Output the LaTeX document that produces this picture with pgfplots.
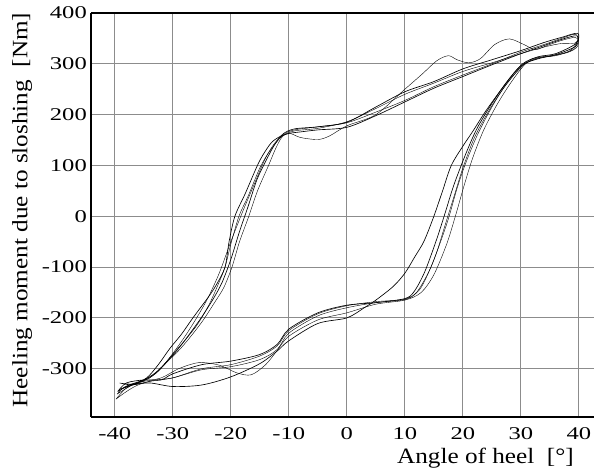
\documentclass[border=0pt]{standalone}
\usepackage{fontspec}
\setmainfont{Liberation Serif}
\newfontfamily\tickfont{Liberation Serif}[FakeStretch=1.37]
\newfontfamily\labfont{Liberation Serif}[FakeStretch=1.15]
\usepackage{pgfplots}
\pgfplotsset{compat=1.18}

\begin{document}
\begin{tikzpicture}
\begin{axis}[
    scale only axis,
    width=503bp, height=404bp,
    xmin=-44.1, xmax=42.6,
    ymin=-395, ymax=400,
    axis x line=box, axis y line=left,
    axis line style={-, line width=1.6pt, black},
    xtick={-40,-30,-20,-10,0,10,20,30,40},
    xticklabels={-40,-30,-20,-10,0,10,20,30,40},
    ytick={-300,-200,-100,0,100,200,300,400},
    yticklabels={-300,-200,-100,0,100,200,300,400},
    major tick length=0pt,
    grid=major,
    grid style={gray!90, line width=0.9pt},
    xticklabel style={font=\tickfont\fontsize{18}{20}\selectfont, anchor=base, inner sep=0pt, yshift=-22bp},
    yticklabel style={font=\tickfont\fontsize{18}{20}\selectfont, anchor=east, inner sep=0pt, xshift=-4bp},
    xlabel={Angle of heel~~[°]},
    ylabel={Heeling moment due to sloshing~~[Nm]},
    xlabel style={font=\labfont\fontsize{22}{26}\selectfont, at={(axis description cs:0.6083,0)}, anchor=base west, inner sep=0pt, yshift=-46bp},
    ylabel style={font=\labfont\fontsize{22}{26}\selectfont, at={(axis description cs:-0.1266,0.512)}, anchor=base, inner sep=0pt},
    cycle list={{black, line width=0.65pt, no marks}},
    every axis plot/.append style={smooth, tension=0.5},
]
% cycle 1 (sloshing waves after each reversal)
\addplot coordinates {
(-39.6,-350) (-38.2,-335) (-35.5,-326) (-32,-318) (-29,-300) (-25.5,-288) (-22,-293) (-19,-308) (-16.5,-312) (-14,-292) (-12,-264) (-10,-236) (-5,-204) (0,-190) (5,-173) (10,-165) (12.8,-150) (15,-115) (17.2,-55) (18.7,0) (20.2,60) (21.7,115) (23.6,170) (26,222) (28.4,265) (30.8,300) (33,312) (36,316) (38.5,326) (39.8,345)
(39.3,352) (37,346) (34.5,336) (32.5,328) (30.5,338) (28,349) (25.5,338) (23,310) (21,302) (19,308) (17.5,316) (15.5,306) (13,280) (10,250) (5,200) (0,178) (-3,158) (-5,151) (-8,155) (-10,163) (-12,150) (-14,115) (-16,62) (-18,8) (-20,-50) (-22,-112) (-24,-162) (-26,-202) (-28,-238) (-30,-270) (-32,-298) (-34,-318) (-37,-332) (-39.6,-350)
};
% cycle 2
\addplot coordinates {
(-39,-340) (-37,-332) (-34,-328) (-30,-335) (-25,-332) (-20,-316) (-15,-290) (-12,-265) (-10,-245) (-5,-211) (0,-200) (3,-180) (5,-165) (8,-138) (10,-112) (11.7,-80) (13.3,-49) (15,0) (16.5,50) (18,100) (20,138) (21.7,167) (24,208) (27,255) (30,296) (33,310) (36,318) (39.5,335)
(39.7,355) (37,348) (34,336) (30,320) (25,298) (20,275) (15,252) (10,225) (5,198) (0,175) (-5,170) (-8,166) (-10,163) (-11.5,157) (-13,145) (-14.5,120) (-15.5,98) (-17.5,45) (-19.3,0) (-20.3,-50) (-21,-100) (-22.5,-135) (-24,-161) (-26.6,-201) (-28.5,-232) (-30.5,-260) (-32.5,-292) (-34.5,-318) (-37,-332) (-39,-340)
};
% cycle 3
\addplot coordinates {
(-39.2,-328) (-37,-332) (-34,-325) (-30,-318) (-25,-302) (-20,-296) (-15,-282) (-12,-262) (-10,-230) (-5,-196) (0,-180) (5,-170) (10,-164) (12,-150) (14,-112) (15.5,-70) (17,-15) (18.5,40) (20,95) (22,155) (24.5,208) (27,252) (30,294) (32,310) (35,316) (38,322) (39.8,335)
(39.5,358) (37,350) (34,338) (30,323) (25,300) (20,278) (15,255) (10,228) (5,205) (0,184) (-5,176) (-9,170) (-11,160) (-13.3,128) (-15,95) (-17,40) (-18.6,0) (-20,-55) (-21,-100) (-22.4,-140) (-23.8,-175) (-25.7,-212) (-27.6,-240) (-29.5,-265) (-32,-298) (-34,-318) (-36.5,-330) (-39.2,-328)
};
% cycle 4
\addplot coordinates {
(-39.8,-360) (-38,-345) (-36,-332) (-33,-322) (-30,-318) (-25,-300) (-20,-292) (-15,-275) (-12,-255) (-10,-225) (-5,-192) (0,-176) (5,-168) (10,-163) (12.5,-145) (14.5,-100) (16,-55) (17.5,-5) (19,55) (20.5,105) (22.5,160) (25,215) (27.5,260) (30.5,298) (33,311) (36,317) (39,328) (39.7,345)
(39.2,340) (37,340) (34,333) (30,320) (25,302) (20,285) (15,262) (10,240) (5,212) (0,186) (-5,173) (-9,168) (-11,158) (-12.2,135) (-13.5,100) (-15.4,50) (-16.9,0) (-18.5,-50) (-19.8,-100) (-21.2,-140) (-22.7,-168) (-24.8,-205) (-26.8,-235) (-28.8,-262) (-31,-287) (-33,-310) (-35.5,-325) (-38,-338) (-39.8,-360)
};
% cycle 5
\addplot coordinates {
(-39.5,-345) (-38,-328) (-35,-322) (-32,-322) (-30,-310) (-25,-292) (-20,-285) (-15,-272) (-12,-252) (-10,-222) (-5,-190) (0,-175) (5,-170) (10,-162) (11.6,-148) (13.4,-110) (15.4,-48) (16.9,5) (18.4,60) (20.4,120) (22.4,172) (25,222) (27.6,265) (30.3,300) (33,314) (36,320) (39.5,340)
(39.8,360) (37,352) (34,342) (30,326) (25,308) (20,290) (15,265) (10,245) (5,215) (0,185) (-5,176) (-9,172) (-11,162) (-12.5,140) (-14,108) (-15.5,72) (-17,20) (-18.5,-30) (-20,-85) (-21.5,-130) (-23,-162) (-25,-198) (-27,-230) (-29,-260) (-31,-286) (-33,-308) (-35,-322) (-37.5,-332) (-39.5,-345)
};
\end{axis}
\pgfresetboundingbox
\path[use as bounding box] (-91bp,-55bp) rectangle (503bp,417bp);
\end{tikzpicture}
\end{document}
